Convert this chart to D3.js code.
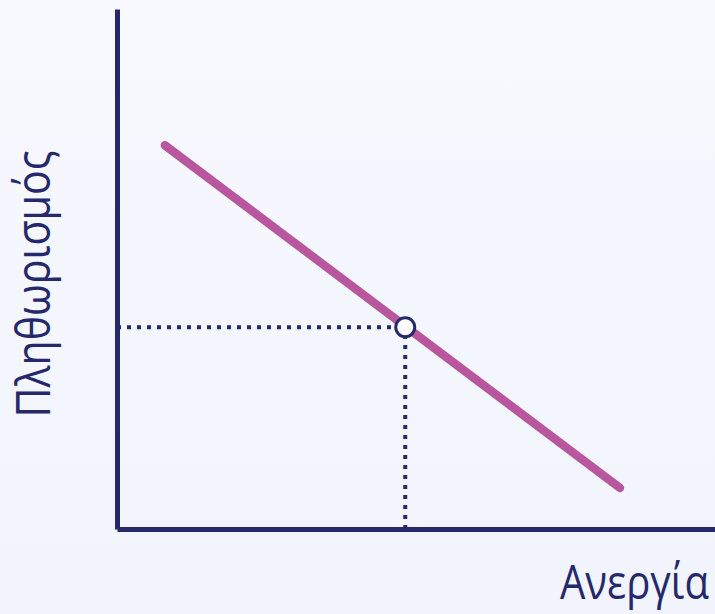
<!DOCTYPE html>
<html>
<head>
<meta charset="utf-8">
<script src="https://cdn.jsdelivr.net/npm/d3@7"></script>
<style>
  html, body { margin: 0; padding: 0; background: #f4f6fd; }
</style>
</head>
<body>
<div id="chart"></div>
<script>
// the curve: two end points, in axis units
var curveX = [0.8, 8.41];
var curveY = [7.38, 0.79];

// the marked point on the curve
var pointX = [4.82];
var pointY = [3.88];

var xLabel = "Ανεργία",
    yLabel = "Πληθωρισμός";

var width = 715,
    height = 614,
    origin = {x: 117, y: 529};

var navy = "#25296b",
    pink = "#b8579e";

var svg = d3.select("#chart")
  .append("svg")
  .attr("width", width)
  .attr("height", height);

var bg = svg.append("defs").append("linearGradient")
  .attr("id", "bg")
  .attr("x1", 0).attr("y1", 0).attr("x2", 0).attr("y2", 1);
bg.append("stop").attr("offset", "0%").attr("stop-color", "#f8f9ff");
bg.append("stop").attr("offset", "100%").attr("stop-color", "#f1f4fc");

svg.append("rect")
  .attr("width", width)
  .attr("height", height)
  .attr("fill", "url(#bg)");

var xScale = d3.scaleLinear().domain([0, 10]).range([origin.x, 715]);
var yScale = d3.scaleLinear().domain([0, 10]).range([origin.y, 9]);

// dotted guides from the point to both axes
var px = xScale(pointX[0]), py = yScale(pointY[0]);
svg.append("line")
  .attr("x1", xScale(0)).attr("y1", py)
  .attr("x2", px).attr("y2", py)
  .attr("stroke", navy)
  .attr("stroke-width", 4)
  .attr("stroke-dasharray", "4,6");
svg.append("line")
  .attr("x1", px).attr("y1", yScale(0))
  .attr("x2", px).attr("y2", py)
  .attr("stroke", navy)
  .attr("stroke-width", 4)
  .attr("stroke-dasharray", "4,6");

// the curve
var line = d3.line()
  .x(function (d) { return xScale(d[0]); })
  .y(function (d) { return yScale(d[1]); });

svg.append("path")
  .datum(d3.zip(curveX, curveY))
  .attr("d", line)
  .attr("fill", "none")
  .attr("stroke", pink)
  .attr("stroke-width", 8.5)
  .attr("stroke-linecap", "round");

// axes, drawn as plain lines without ticks
var xAxis = d3.axisBottom(xScale).tickValues([]).tickSizeOuter(0);
var yAxis = d3.axisLeft(yScale).tickValues([]).tickSizeOuter(0);

svg.append("g")
  .attr("transform", "translate(0," + origin.y + ")")
  .call(xAxis)
  .select(".domain")
  .attr("stroke", navy)
  .attr("stroke-width", 5);

svg.append("g")
  .attr("transform", "translate(" + origin.x + ",0)")
  .call(yAxis)
  .select(".domain")
  .attr("stroke", navy)
  .attr("stroke-width", 5);

// the point
svg.selectAll("circle.pt").data(d3.zip(pointX, pointY))
  .enter().append("circle")
  .attr("class", "pt")
  .attr("cx", function (d) { return xScale(d[0]); })
  .attr("cy", function (d) { return yScale(d[1]); })
  .attr("r", 9.5)
  .attr("fill", "#ffffff")
  .attr("stroke", navy)
  .attr("stroke-width", 3);

// axis titles
svg.append("text")
  .attr("x", 709)
  .attr("y", 599)
  .attr("text-anchor", "end")
  .attr("font-family", "Open Sans, sans-serif")
  .attr("font-size", 48)
  .attr("textLength", 149)
  .attr("lengthAdjust", "spacingAndGlyphs")
  .attr("fill", navy)
  .text(xLabel);

svg.append("text")
  .attr("transform", "translate(50,284) rotate(-90)")
  .attr("text-anchor", "middle")
  .attr("font-family", "Open Sans, sans-serif")
  .attr("font-size", 48)
  .attr("textLength", 267)
  .attr("lengthAdjust", "spacingAndGlyphs")
  .attr("fill", navy)
  .text(yLabel);
</script>
</body>
</html>
